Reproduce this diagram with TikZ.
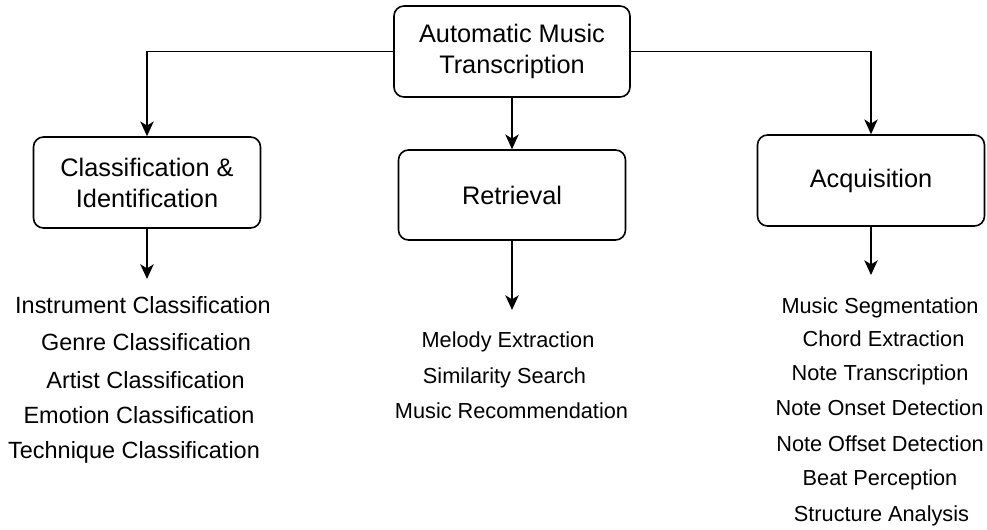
\documentclass[tikz,border=0pt]{standalone}
\usepackage{fontspec}
\setmainfont{Liberation Sans}
\usetikzlibrary{arrows.meta,positioning}

\begin{document}
\begin{tikzpicture}[
    x=0.75pt, y=-0.75pt,
    block/.style={rectangle, rounded corners=7.5pt, draw=black, line width=1.2pt, fill=white,
        minimum width=170.25pt, minimum height=68.25pt, align=center, inner sep=0pt,
        font=\fontsize{19}{23.25}\selectfont},
    leftitem/.style={inner sep=0pt, anchor=base, font=\fontsize{17.6}{20}\selectfont},
    item/.style={inner sep=0pt, anchor=base, font=\fontsize{16.3}{19}\selectfont},
    arrow/.style={-{Stealth[length=11pt, width=10pt, inset=3pt]}, line width=1.2pt}
]
\useasboundingbox (0,0) rectangle (987,529);

\node[block, minimum width=177pt] (amt) at (512,51.5) {Automatic Music\\Transcription};
\node[block] (cls) at (147,182.5) {Classification \&\\Identification};
\node[block, minimum height=67.5pt] (ret) at (512,195) {Retrieval};
\node[block] (acq) at (871,180.5) {Acquisition};

% ends of the lower arrows
\coordinate (clsend) at (147,279);
\coordinate (retend) at (512,310);
\coordinate (acqend) at (871,275);

% classification tasks
\node[leftitem] (ins) at (143,313) {Instrument Classification};
\node[leftitem] (gen) at (146,350) {Genre Classification};
\node[leftitem] (art) at (145.5,388) {Artist Classification};
\node[leftitem] (emo) at (139,423) {Emotion Classification};
\node[leftitem] (tec) at (134,458) {Technique Classification};

% retrieval tasks
\node[item] (mel) at (508,347) {Melody Extraction};
\node[item] (sim) at (504.5,383) {Similarity Search};
\node[item] (rec) at (511.5,418) {Music Recommendation};

% acquisition tasks
\node[item] (seg) at (880,313) {Music Segmentation};
\node[item] (cho) at (883.5,346) {Chord Extraction};
\node[item] (not) at (880,380) {Note Transcription};
\node[item] (ons) at (879.5,415) {Note Onset Detection};
\node[item] (off) at (880,451) {Note Offset Detection};
\node[item] (bea) at (880,485) {Beat Perception};
\node[item] (str) at (881.5,521) {Structure Analysis};

\draw[arrow] (amt.west) -| (cls.north);
\draw[arrow] (amt.south) -- (ret.north);
\draw[arrow] (amt.east) -| (acq.north);
\draw[arrow] (cls.south) -- (clsend);
\draw[arrow] (ret.south) -- (retend);
\draw[arrow] (acq.south) -- (acqend);
\end{tikzpicture}
\end{document}
